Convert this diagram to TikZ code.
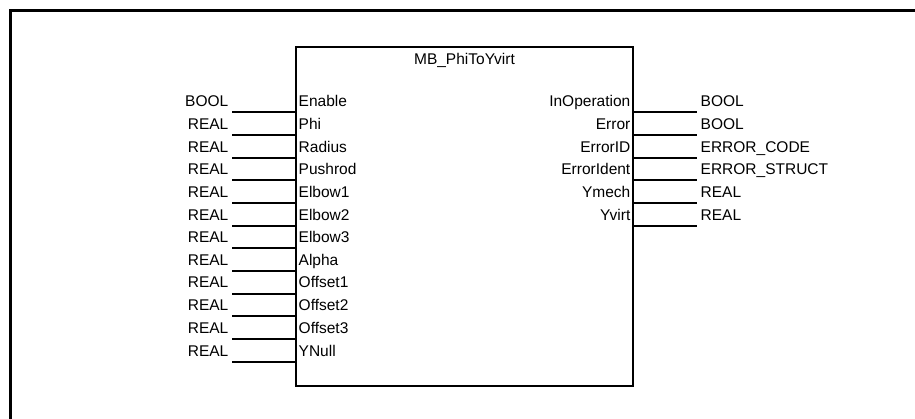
\documentclass[tikz,border=0pt]{standalone}
\usepackage{fontspec}
\setmainfont{Liberation Sans}
\usepackage{tikz}
\tikzstyle{frame}=[draw=black,line width=3]
\tikzstyle{fblock}=[rectangle,draw=black,line width=2,minimum width=337,minimum height=339,inner sep=0]
\tikzstyle{pin}=[font=\fontsize{15.5}{18}\selectfont,inner xsep=3.5,inner ysep=2,text depth=3.5]
\tikzstyle{wire}=[line width=2]
\tikzset{every picture/.style={
    x=1pt,y=-1pt
  }
}

\begin{document}
\begin{tikzpicture}
      \useasboundingbox (0,0) rectangle (915,419);
      \draw[frame] (10.5,430) |- (930,10.5);
      \node[fblock] at (464.5,216.5) (fb) {};
      \node[pin,anchor=base] at (464.5,65) (title) {MB\_PhiToYvirt};
      % inputs
      \node[pin,anchor=south east] at (232,112.5) (tEnable) {BOOL};
      \node[pin,anchor=south east] at (232,135.2) (tPhi) {REAL};
      \node[pin,anchor=south east] at (232,157.8) (tRadius) {REAL};
      \node[pin,anchor=south east] at (232,180.5) (tPushrod) {REAL};
      \node[pin,anchor=south east] at (232,203.1) (tElbow1) {REAL};
      \node[pin,anchor=south east] at (232,225.8) (tElbow2) {REAL};
      \node[pin,anchor=south east] at (232,248.4) (tElbow3) {REAL};
      \node[pin,anchor=south east] at (232,271.1) (tAlpha) {REAL};
      \node[pin,anchor=south east] at (232,293.7) (tOffset1) {REAL};
      \node[pin,anchor=south east] at (232,316.4) (tOffset2) {REAL};
      \node[pin,anchor=south east] at (232,339.0) (tOffset3) {REAL};
      \node[pin,anchor=south east] at (232,361.7) (tYNull) {REAL};
      \node[pin,anchor=south west] at (fb.west |- tEnable.south) (pEnable) {Enable};
      \node[pin,anchor=south west] at (fb.west |- tPhi.south) (pPhi) {Phi};
      \node[pin,anchor=south west] at (fb.west |- tRadius.south) (pRadius) {Radius};
      \node[pin,anchor=south west] at (fb.west |- tPushrod.south) (pPushrod) {Pushrod};
      \node[pin,anchor=south west] at (fb.west |- tElbow1.south) (pElbow1) {Elbow1};
      \node[pin,anchor=south west] at (fb.west |- tElbow2.south) (pElbow2) {Elbow2};
      \node[pin,anchor=south west] at (fb.west |- tElbow3.south) (pElbow3) {Elbow3};
      \node[pin,anchor=south west] at (fb.west |- tAlpha.south) (pAlpha) {Alpha};
      \node[pin,anchor=south west] at (fb.west |- tOffset1.south) (pOffset1) {Offset1};
      \node[pin,anchor=south west] at (fb.west |- tOffset2.south) (pOffset2) {Offset2};
      \node[pin,anchor=south west] at (fb.west |- tOffset3.south) (pOffset3) {Offset3};
      \node[pin,anchor=south west] at (fb.west |- tYNull.south) (pYNull) {YNull};
      \draw[wire] (tEnable.south east)--(pEnable.south west);
      \draw[wire] (tPhi.south east)--(pPhi.south west);
      \draw[wire] (tRadius.south east)--(pRadius.south west);
      \draw[wire] (tPushrod.south east)--(pPushrod.south west);
      \draw[wire] (tElbow1.south east)--(pElbow1.south west);
      \draw[wire] (tElbow2.south east)--(pElbow2.south west);
      \draw[wire] (tElbow3.south east)--(pElbow3.south west);
      \draw[wire] (tAlpha.south east)--(pAlpha.south west);
      \draw[wire] (tOffset1.south east)--(pOffset1.south west);
      \draw[wire] (tOffset2.south east)--(pOffset2.south west);
      \draw[wire] (tOffset3.south east)--(pOffset3.south west);
      \draw[wire] (tYNull.south east)--(pYNull.south west);
      % outputs
      \node[pin,anchor=south west] at (697,112.5) (tInOperation) {BOOL};
      \node[pin,anchor=south west] at (697,135.2) (tError) {BOOL};
      \node[pin,anchor=south west] at (697,157.8) (tErrorID) {ERROR\_CODE};
      \node[pin,anchor=south west] at (697,180.5) (tErrorIdent) {ERROR\_STRUCT};
      \node[pin,anchor=south west] at (697,203.1) (tYmech) {REAL};
      \node[pin,anchor=south west] at (697,225.8) (tYvirt) {REAL};
      \node[pin,anchor=south east] at (fb.east |- tInOperation.south) (pInOperation) {InOperation};
      \node[pin,anchor=south east] at (fb.east |- tError.south) (pError) {Error};
      \node[pin,anchor=south east] at (fb.east |- tErrorID.south) (pErrorID) {ErrorID};
      \node[pin,anchor=south east] at (fb.east |- tErrorIdent.south) (pErrorIdent) {ErrorIdent};
      \node[pin,anchor=south east] at (fb.east |- tYmech.south) (pYmech) {Ymech};
      \node[pin,anchor=south east] at (fb.east |- tYvirt.south) (pYvirt) {Yvirt};
      \draw[wire] (pInOperation.south east)--(tInOperation.south west);
      \draw[wire] (pError.south east)--(tError.south west);
      \draw[wire] (pErrorID.south east)--(tErrorID.south west);
      \draw[wire] (pErrorIdent.south east)--(tErrorIdent.south west);
      \draw[wire] (pYmech.south east)--(tYmech.south west);
      \draw[wire] (pYvirt.south east)--(tYvirt.south west);
    \end{tikzpicture}
\end{document}
